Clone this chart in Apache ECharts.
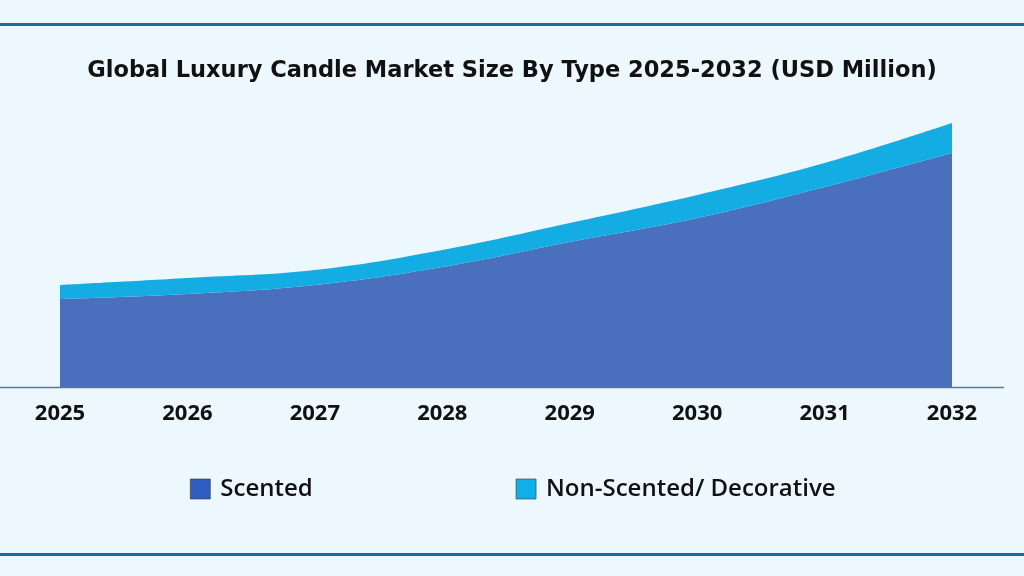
<!DOCTYPE html>
<html>
<head>
<meta charset="utf-8">
<script src="https://cdn.jsdelivr.net/npm/echarts@6/dist/echarts.min.js"></script>
<style>
html,body{margin:0;padding:0;background:#ecf8fd;}
#chart{width:1024px;height:576px;}
</style>
</head>
<body>
<div id="chart"></div>
<script>
const years = ['2025','2026','2027','2028','2029','2030','2031','2032'];
const scented = [880, 930, 1020, 1200, 1450, 1690, 2000, 2340];
const nonScented = [140, 160, 150, 170, 190, 230, 240, 300];
const seriesNames = ['Scented', 'Non-Scented/ Decorative'];
const titleText = 'Global Luxury Candle Market Size By Type 2025-2032 (USD Million)';

const chart = echarts.init(document.getElementById('chart'));
chart.setOption({
  backgroundColor: '#ecf8fd',
  animation: false,
  title: {
    text: titleText,
    left: 'center',
    top: 60,
    padding: 0,
    textStyle: { fontFamily: 'DejaVu Sans', fontWeight: 'bold', fontSize: 22.5, color: '#111' }
  },
  legend: {
    data: seriesNames,
    left: 190,
    top: 477,
    padding: 0,
    itemWidth: 20,
    itemHeight: 20,
    itemGap: 203,
    icon: 'rect',
    textStyle: { fontFamily: 'Open Sans', fontWeight: 600, fontSize: 24, color: '#111', padding: [0, 0, 0, 5] },
    itemStyle: { borderColor: '#333', borderWidth: 0.6 }
  },
  grid: { left: 60, right: 72, top: 87, bottom: 189, containLabel: false },
  xAxis: {
    type: 'category',
    data: years,
    boundaryGap: false,
    axisLine: { show: false },
    axisTick: { show: false },
    axisLabel: { fontFamily: 'Open Sans', fontWeight: 'bold', fontSize: 22, color: '#111', margin: 16 }
  },
  yAxis: {
    type: 'value',
    min: 0,
    max: 3000,
    show: false,
    splitLine: { show: false }
  },
  series: [
    {
      name: seriesNames[0],
      type: 'line',
      stack: 'total',
      smooth: 0.4,
      symbol: 'none',
      lineStyle: { width: 0 },
      areaStyle: { color: '#4a70bd', opacity: 1 },
      itemStyle: { color: '#2e5cc0' },
      data: scented
    },
    {
      name: seriesNames[1],
      type: 'line',
      stack: 'total',
      smooth: 0.4,
      symbol: 'none',
      lineStyle: { width: 0 },
      areaStyle: { color: '#14ade3', opacity: 1 },
      itemStyle: { color: '#0fb0ea' },
      data: nonScented
    }
  ],
  graphic: [
    { type: 'line', shape: { x1: 0, y1: 24.5, x2: 1024, y2: 24.5 }, style: { stroke: '#1a6e9f', lineWidth: 3 } },
    { type: 'line', shape: { x1: 0, y1: 554.5, x2: 1024, y2: 554.5 }, style: { stroke: '#1a6e9f', lineWidth: 3 } },
    { type: 'line', z: 10, shape: { x1: 0, y1: 387.5, x2: 1004, y2: 387.5 }, style: { stroke: '#5d7896', lineWidth: 1.5 } }
  ]
});
</script>
</body>
</html>
